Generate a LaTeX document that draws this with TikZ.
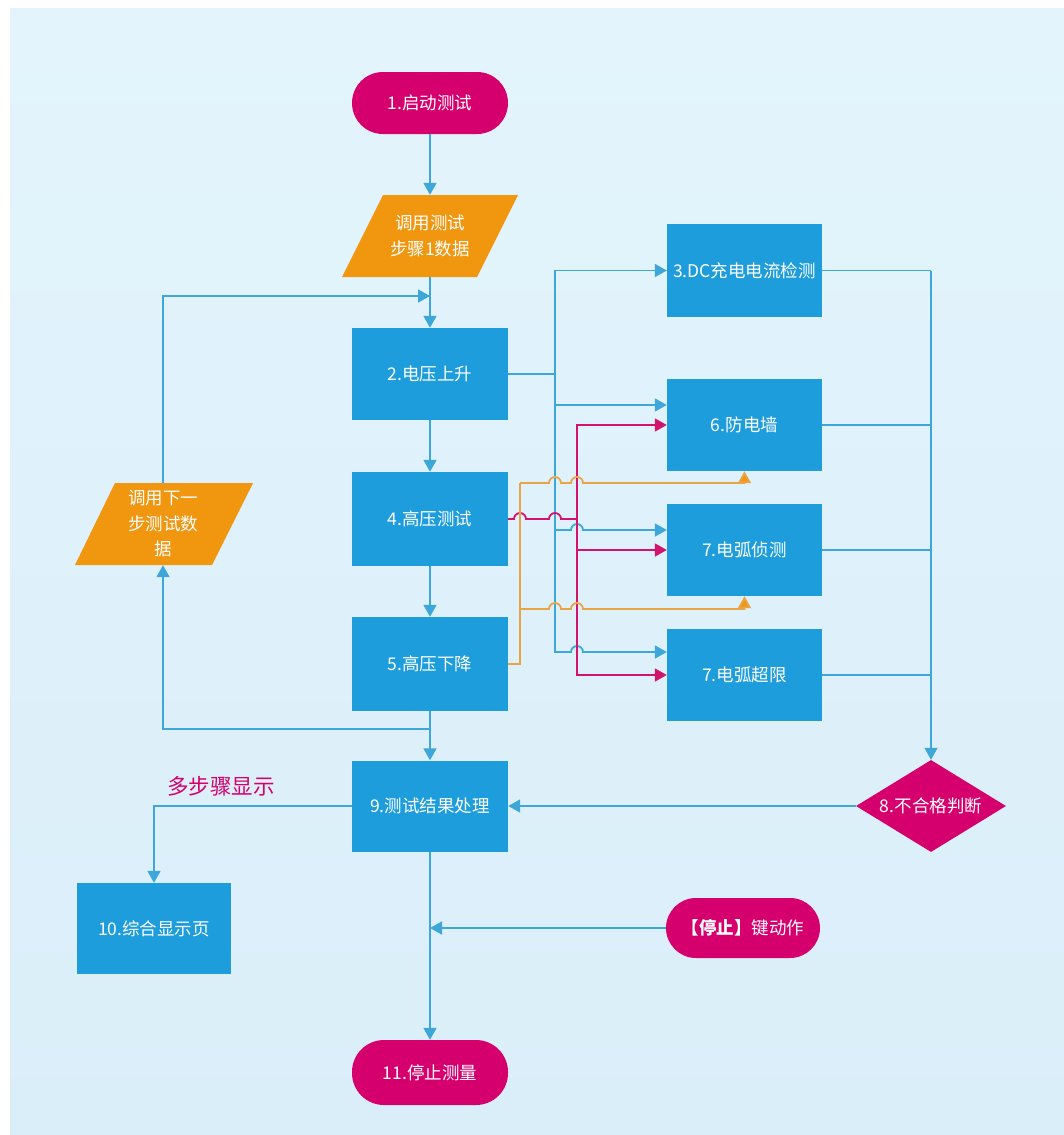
\documentclass[tikz,border=0pt]{standalone}
\usepackage{fontspec}
\setmainfont{Noto Sans CJK SC}
\usetikzlibrary{arrows.meta,shapes.geometric,calc}
\definecolor{bbox}{HTML}{1D9DDB}
\definecolor{mag}{HTML}{D5006D}
\definecolor{org}{HTML}{F0960F}
\definecolor{lblue}{HTML}{3DA7DA}
\definecolor{lmag}{HTML}{D3146F}
\definecolor{lorg}{HTML}{E9A445}
\definecolor{bgA}{HTML}{DAEEF9}
\definecolor{bgB}{HTML}{E3F4FC}
\begin{document}
\begin{tikzpicture}[x=1pt,y=-1pt,
  boxnode/.style={rectangle, fill=bbox, text=white, minimum width=156pt, minimum height=93pt, inner sep=0pt, font=\fontsize{17.5}{22}\selectfont},
  termnode/.style={rectangle, rounded corners=31pt, fill=mag, text=white, minimum width=156pt, minimum height=62pt, inner sep=0pt, font=\fontsize{17.5}{22}\selectfont},
  diamnode/.style={diamond, fill=mag, minimum width=150pt, minimum height=92pt, inner sep=0pt},
  txtnode/.style={text=white, align=center, inner sep=0pt, font=\fontsize{17.5}{25.5}\selectfont},
  parafill/.style={fill=org},
  lnblue/.style={draw=lblue, line width=1.8pt},
  lnmag/.style={draw=lmag, line width=1.8pt},
  lnorg/.style={draw=lorg, line width=1.8pt},
  arrtip/.style={-{Triangle[length=12pt,width=13pt]}},
  arrB/.style={arrtip, lnblue},
  arrM/.style={arrtip, lnmag},
  arrO/.style={-{Triangle[length=12pt,width=13pt,fill=org]}, lnorg},
]
\useasboundingbox (0,0) rectangle (1063,1135);
% background
\fill[white] (0,0) rectangle (1063,1135);
\shade[top color=bgB, bottom color=bgA] (10,8) rectangle (1066,1140);

% nodes
\node[termnode] (n1) at (430,103) {1.启动测试};
\fill[parafill] (342,277) -- (383,195) -- (518,195) -- (477,277) -- cycle;
\node[txtnode, minimum height=82pt] (p1) at (430,236) {调用测试\\步骤1数据};
\node[boxnode, minimum height=92pt] (b2) at (430,374) {2.电压上升};
\node[boxnode, minimum height=94pt] (b4) at (430,519) {4.高压测试};
\node[boxnode, minimum height=94pt] (b5) at (430,664) {5.高压下降};
\node[boxnode, minimum height=91pt] (b9) at (430,806) {9.测试结果处理};
\node[termnode, minimum height=65pt, rounded corners=32pt] (n11) at (430,1072.5) {11.停止测量};

\fill[parafill] (75,565) -- (115,483) -- (253,483) -- (212,565) -- cycle;
\node[txtnode, minimum height=82pt] (p2) at (163,524) {调用下一\\步测试数\\据};

\node[boxnode, minimum width=155pt] (b3) at (744.5,270.5) {3.DC充电电流检测};
\node[boxnode, minimum width=155pt, minimum height=92pt] (b6) at (744.5,425) {6.防电墙};
\node[boxnode, minimum width=155pt, minimum height=92pt] (b7a) at (744.5,550) {7.电弧侦测};
\node[boxnode, minimum width=155pt, minimum height=92pt] (b7b) at (744.5,675) {7.电弧超限};

\node[diamnode] (d8) at (931,806) {};
\node[txtnode] (d8t) at (d8) {8.不合格判断};

\node[boxnode, minimum width=154pt, minimum height=91pt] (b10) at (154,928.5) {10.综合显示页};
\node[termnode, minimum width=154pt, minimum height=60pt, rounded corners=30pt] (stop) at (743,928) {{\bfseries 【停止】}键动作};

\node[text=mag, inner sep=0pt, font=\fontsize{21.5}{24}\selectfont] (lbl) at (221,786) {多步骤显示};

% helper coordinates
\coordinate (tB) at (555,0);
\coordinate (tM) at (577,0);
\coordinate (tO) at (520,0);
\coordinate (tR) at (931,0);
\coordinate (j1) at (430,296);
\coordinate (j2) at (430,729);
\coordinate (j3) at (430,928);
\coordinate (yB2) at (0,405);
\coordinate (yB3) at (0,530);
\coordinate (yB4) at (0,652);
\coordinate (yO1) at (0,483);
\coordinate (yO2) at (0,609);

% main vertical flow
\draw[arrB] (n1) -- (p1.north);
\draw[arrB] (p1.south) -- (b2.north);
\draw[arrB] (b2) -- (b4);
\draw[arrB] (b4) -- (b5);
\draw[arrB] (b5) -- (b9);
\draw[arrB] (b9) -- (n11);

% loop back
\draw[arrB] (j2) -| (p2.south);
\draw[arrB] (p2.north) |- (j1);

% stop key
\draw[arrB] (stop.west) -- (j3);

% to box 10
\draw[arrB] (b9.west) -| (b10.north);

% diamond to box 9
\draw[arrB] (d8.west) -- (b9.east);

% blue fan-out from box 2
\draw[lnblue] (b2.east) -- (b2.east -| tB);
\draw[arrB] (b2.east -| tB) |- (b3.west);
\draw[arrB] (b2.east -| tB) |- (b6.west |- yB2);
\draw[arrB] (b2.east -| tB) -- (tB |- yB3) -- (571,530) arc[start angle=180,end angle=360,radius=6] -- (b7a.west |- yB3);
\draw[arrB] (tB |- yB3) -- (tB |- yB4) -- (571,652) arc[start angle=180,end angle=360,radius=6] -- (b7b.west |- yB4);

% magenta fan-out from box 4
\draw[lnmag] (b4.east) -- (514,519) arc[start angle=180,end angle=360,radius=6] -- (549,519) arc[start angle=180,end angle=360,radius=6] -- (b4.east -| tM);
\draw[arrM] (b4.east -| tM) |- (b6.west);
\draw[arrM] (b4.east -| tM) |- (b7a.west);
\draw[arrM] (b4.east -| tM) |- (b7b.west);

% orange fan-out from box 5
\draw[lnorg] (b5.east) -- (b5.east -| tO) -- (tO |- yO1);
\draw[arrO] (tO |- yO1) -- (549,483) arc[start angle=180,end angle=360,radius=6] -- (571,483) arc[start angle=180,end angle=360,radius=6] -- (b6.south |- yO1) -- (b6.south);
\draw[arrO] (tO |- yO2) -- (549,609) arc[start angle=180,end angle=360,radius=6] -- (571,609) arc[start angle=180,end angle=360,radius=6] -- (b7a.south |- yO2) -- (b7a.south);

% right collector
\draw[lnblue, line width=1.5pt] (b3.east) -- (b3.east -| tR);
\draw[lnblue, line width=1.5pt] (b6.east) -- (b6.east -| tR);
\draw[lnblue, line width=1.5pt] (b7a.east) -- (b7a.east -| tR);
\draw[lnblue, line width=1.5pt] (b7b.east) -- (b7b.east -| tR);
\draw[arrB, line width=1.5pt] (b3.east -| tR) -- (d8.north);
\end{tikzpicture}
\end{document}
